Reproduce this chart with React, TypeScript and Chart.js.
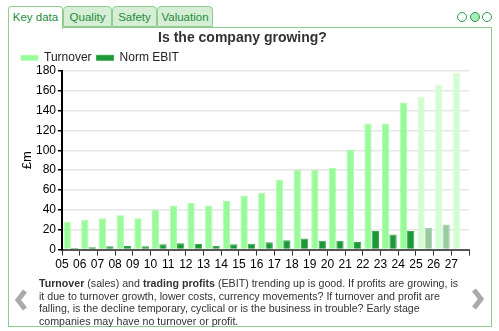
import React, { useEffect, useRef } from "react";
import { Chart, registerables } from "chart.js";
Chart.register(...registerables);

const years = ["05","06","07","08","09","10","11","12","13","14","15","16","17","18","19","20","21","22","23","24","25","26","27"];
const turnover = [28, 30, 31.5, 34.5, 31.5, 40, 44, 47, 44.5, 49, 54, 57, 70, 80.5, 80.5, 82.5, 100.5, 127, 126.5, 148, 154, 166, 178];
const ebit = [1.7, 2.3, 3.3, 3.7, 3.3, 5.3, 6.3, 5.7, 4, 5.3, 6, 7.3, 9.3, 11.3, 9, 9, 7.7, 18.7, 15.3, 18.7, 21.7, 25.3, null];
const firstForecast = "25";
const tabs = ["Key data", "Quality", "Safety", "Valuation"];
const tabWidths = [55, 49, 45, 56];

const FONT = '"Liberation Sans", Arial, Helvetica, sans-serif';

export default function App() {
  const ref = useRef<HTMLCanvasElement>(null);
  useEffect(() => {
    Chart.defaults.font.family = FONT;
    const fIdx = years.indexOf(firstForecast);
    const chart = new Chart(ref.current!, {
      type: "bar",
      data: {
        labels: years,
        datasets: [
          {
            label: "Turnover",
            data: turnover,
            backgroundColor: turnover.map((_, i) => (i >= fIdx ? "#d2fcd2" : "#98fa98")),
            borderColor: turnover.map((_, i) => (i >= fIdx ? "#dcfddc" : "#aefcae")),
            borderWidth: 1,
          },
          {
            label: "Norm EBIT",
            data: ebit,
            backgroundColor: ebit.map((_, i) => (i >= fIdx ? "#98cc9e" : "#1c9936")),
            borderColor: ebit.map((_, i) => (i >= fIdx ? "#a8d4ad" : "#3aa852")),
            borderWidth: 1,
          },
        ],
      },
      options: {
        animation: false,
        responsive: false,
        maintainAspectRatio: false,
        layout: { padding: { left: 6, right: 19, top: 0, bottom: 4 } },
        datasets: { bar: { categoryPercentage: 0.83, barPercentage: 1 } },
        plugins: {
          title: {
            display: true,
            text: "Is the company growing?",
            color: "#333",
            font: { size: 14, weight: "bold" },
            padding: { top: 2, bottom: 0 },
          },
          legend: {
            align: "start",
            maxHeight: 24,
            labels: { boxWidth: 17, boxHeight: 5, padding: 5, color: "#222", font: { size: 12 } },
          },
          tooltip: { enabled: false },
        },
        scales: {
          x: {
            grid: { offset: true, drawOnChartArea: false, tickLength: 6, color: "#333", lineWidth: 1 },
            border: { color: "#555", width: 2 },
            ticks: { labelOffset: -8.85, padding: 2, color: "#000", font: { size: 12 }, maxRotation: 0, autoSkip: false },
          },
          y: {
            min: 0,
            max: 180,
            ticks: { stepSize: 20, padding: 2, color: "#000", font: { size: 12 } },
            grid: { color: "#e6e6e6", lineWidth: 1.5, tickColor: "#000", tickLength: 4 },
            border: { color: "#000", width: 2 },
            title: { display: true, text: "£m", color: "#000", font: { size: 13 }, padding: { top: 4, bottom: 0 } },
            afterFit: (s: any) => {
              s.width = 46;
            },
          },
        },
      } as any,
    });
    return () => chart.destroy();
  }, []);

  let x = 8;
  const tabEls = tabs.map((t, i) => {
    const left = x;
    x += tabWidths[i];
    const active = i === 0;
    return (
      <div
        key={t}
        style={{
          position: "absolute",
          left,
          top: 6,
          width: tabWidths[i],
          height: active ? 23 : 21,
          boxSizing: "border-box",
          border: "1px solid #8fce8f",
          borderBottom: active ? "none" : "1px solid #8fce8f",
          borderRadius: "4px 4px 0 0",
          background: active ? "#fff" : "#d5eed5",
          color: "#1e8b3a",
          font: `11.5px ${FONT}`,
          lineHeight: "20px",
          textAlign: "center",
          zIndex: active ? 2 : 1,
        }}
      >
        {t}
      </div>
    );
  });

  const circle = (cx: number, fill: string) => (
    <div
      style={{
        position: "absolute",
        left: cx - 5,
        top: 11.5,
        width: 10,
        height: 10,
        boxSizing: "border-box",
        borderRadius: "50%",
        border: "1px solid #2a9a4a",
        background: fill,
      }}
    />
  );

  return (
    <div>
      {tabEls}
      {circle(461.5, "#fff")}
      {circle(475, "#a8ecb8")}
      {circle(486.5, "#fff")}
      <div
        style={{
          position: "absolute",
          left: 8,
          top: 27,
          width: 484,
          height: 300,
          boxSizing: "border-box",
          border: "1.5px solid #8fcc8f",
          zIndex: 1,
        }}
      />
      <canvas
        ref={ref}
        width={478}
        height={250}
        style={{ position: "absolute", left: 10, top: 28, width: 478, height: 250, zIndex: 3 }}
      />
      <div
        style={{
          position: "absolute",
          left: 39,
          top: 277,
          font: `10.65px ${FONT}`,
          lineHeight: "12.5px",
          color: "#333",
          whiteSpace: "nowrap",
          zIndex: 3,
        }}
      >
        <b>Turnover</b> (sales) and <b>trading profits</b> (EBIT) trending up is good. If profits are growing, is
        <br />
        it due to turnover growth, lower costs, currency movements? If turnover and profit are
        <br />
        falling, is the decline temporary, cyclical or is the business in trouble? Early stage
        <br />
        companies may have no turnover or profit.
      </div>
      <svg style={{ position: "absolute", left: 13, top: 288, zIndex: 3 }} width={16} height={24}>
        <polyline points="12,3 5,12 12,21" fill="none" stroke="#aaa" strokeWidth={5} />
      </svg>
      <svg style={{ position: "absolute", left: 470, top: 287, zIndex: 3 }} width={16} height={24}>
        <polyline points="4,3 11,12 4,21" fill="none" stroke="#aaa" strokeWidth={5} />
      </svg>
    </div>
  );
}
